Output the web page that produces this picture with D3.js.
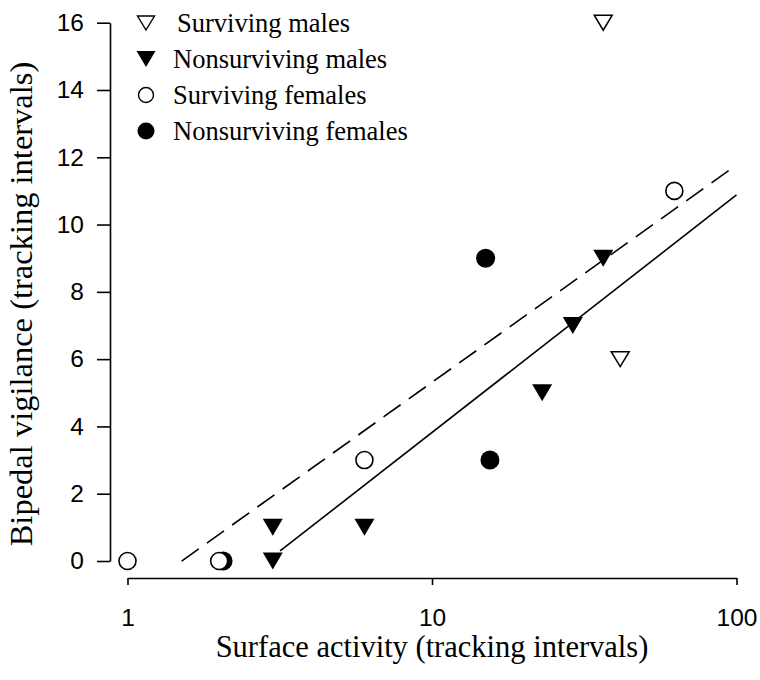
<!DOCTYPE html>
<html>
<head>
<meta charset="utf-8">
<script src="https://cdn.jsdelivr.net/npm/d3@7"></script>
<style>
  html, body { margin: 0; padding: 0; background: #fff; }
  svg { display: block; }
</style>
</head>
<body>
<svg id="chart" width="760" height="680"></svg>
<script>
// Surface activity (x) vs bipedal vigilance (y), in tracking intervals
const survivingMalesX      = [36.5, 41.5];
const survivingMalesY      = [16, 6];
const nonsurvivingMalesX   = [3, 3, 6, 23, 29, 36.5];
const nonsurvivingMalesY   = [0, 1, 1, 5, 7, 9];
const survivingFemalesX    = [1, 2, 6, 62.5];
const survivingFemalesY    = [0, 0, 3, 11];
const nonsurvivingFemalesX = [2.06, 15, 15.5];
const nonsurvivingFemalesY = [0, 9, 3];

// Fitted lines: y = slope * log10(x) + intercept, drawn over [xStart, xEnd]
const fitNames      = ["solid", "dashed"];
const fitSlopes     = [7.06, 6.46];
const fitIntercepts = [-3.24, -1.15];
const fitXStart     = [3.17, 1.506];
const fitXEnd       = [100, 100];

const xTicks = [1, 10, 100];
const yTicks = [0, 2, 4, 6, 8, 10, 12, 14, 16];

const legendLabels = ["Surviving males", "Nonsurviving males", "Surviving females", "Nonsurviving females"];

const svg = d3.select("#chart");
const x = d3.scaleLog().domain([1, 100]).range([127.5, 736.5]);
const y = d3.scaleLinear().domain([0, 16]).range([561, 22.7]);

const tickFont = "'Liberation Sans', Arial, sans-serif";
const titleFont = "'Liberation Serif', 'Times New Roman', serif";

// Y axis
const yAxis = svg.append("g")
  .attr("transform", "translate(110,0)")
  .call(d3.axisLeft(y).tickValues(yTicks).tickSize(13).tickSizeOuter(0).tickPadding(13));
yAxis.selectAll("path, line").attr("stroke", "#000").attr("stroke-width", 1.6);
yAxis.selectAll("text")
  .attr("font-family", tickFont).attr("font-size", 24.5).attr("fill", "#000");

// X axis
const xAxis = svg.append("g")
  .attr("transform", "translate(0,578)")
  .call(d3.axisBottom(x).tickValues(xTicks).tickFormat(d3.format("d")).tickSize(7).tickSizeOuter(0));
xAxis.selectAll("path, line").attr("stroke", "#000").attr("stroke-width", 1.6);
xAxis.selectAll("text")
  .attr("font-family", tickFont).attr("font-size", 24.5).attr("fill", "#000")
  .attr("y", 48).attr("dy", 0);

// Axis titles
svg.append("text")
  .attr("x", x(10)).attr("y", 657)
  .attr("text-anchor", "middle")
  .attr("font-family", titleFont).attr("font-size", 30.5)
  .text("Surface activity (tracking intervals)");

svg.append("text")
  .attr("transform", "translate(32,304) rotate(-90)")
  .attr("text-anchor", "middle")
  .attr("font-family", titleFont).attr("font-size", 32.5)
  .text("Bipedal vigilance (tracking intervals)");

// Fitted lines
const fits = fitNames.map((name, i) => ({
  name, slope: fitSlopes[i], intercept: fitIntercepts[i], x0: fitXStart[i], x1: fitXEnd[i]
}));
const fitY = (f, v) => f.slope * Math.log10(v) + f.intercept;
svg.append("g").selectAll("line")
  .data(fits)
  .join("line")
  .attr("x1", d => x(d.x0)).attr("y1", d => y(fitY(d, d.x0)))
  .attr("x2", d => x(d.x1)).attr("y2", d => y(fitY(d, d.x1)))
  .attr("stroke", "#000").attr("stroke-width", 1.6)
  .attr("stroke-dasharray", d => d.name === "dashed" ? "21,10" : null);

// Marker shapes
const triPath = (cx, cy, w, h) =>
  `M${cx - w / 2},${cy - h / 2}L${cx + w / 2},${cy - h / 2}L${cx},${cy + h / 2}Z`;

function zipPts(xs, ys) { return xs.map((v, i) => ({ x: v, y: ys[i] })); }

const pts = svg.append("g");
// Filled circles first so the open circles sit over them
pts.selectAll("circle.nf")
  .data(zipPts(nonsurvivingFemalesX, nonsurvivingFemalesY))
  .join("circle").attr("class", "nf")
  .attr("cx", d => x(d.x)).attr("cy", d => y(d.y)).attr("r", 9.5)
  .attr("fill", "#000");
pts.selectAll("circle.sf")
  .data(zipPts(survivingFemalesX, survivingFemalesY))
  .join("circle").attr("class", "sf")
  .attr("cx", d => x(d.x)).attr("cy", d => y(d.y)).attr("r", 8.5)
  .attr("fill", "#fff").attr("stroke", "#000").attr("stroke-width", 1.6);
pts.selectAll("path.nm")
  .data(zipPts(nonsurvivingMalesX, nonsurvivingMalesY))
  .join("path").attr("class", "nm")
  .attr("d", d => triPath(x(d.x), y(d.y), 20, 17))
  .attr("fill", "#000");
pts.selectAll("path.sm")
  .data(zipPts(survivingMalesX, survivingMalesY))
  .join("path").attr("class", "sm")
  .attr("d", d => triPath(x(d.x), y(d.y), 18, 15))
  .attr("fill", "#fff").attr("stroke", "#000").attr("stroke-width", 1.5);

// Legend
const legend = svg.append("g");
legendLabels.forEach((label, i) => {
  const cy = 23 + i * 36;
  const cx = 146;
  if (i === 0) {
    legend.append("path").attr("d", triPath(cx, cy, 17, 14))
      .attr("fill", "#fff").attr("stroke", "#000").attr("stroke-width", 1.4);
  } else if (i === 1) {
    legend.append("path").attr("d", triPath(cx, cy, 19, 16)).attr("fill", "#000");
  } else if (i === 2) {
    legend.append("circle").attr("cx", cx).attr("cy", cy).attr("r", 7.5)
      .attr("fill", "#fff").attr("stroke", "#000").attr("stroke-width", 1.4);
  } else {
    legend.append("circle").attr("cx", cx).attr("cy", cy).attr("r", 8.5).attr("fill", "#000");
  }
  legend.append("text")
    .attr("x", i === 0 ? 177 : 173).attr("y", cy + 8.5)
    .attr("font-family", titleFont).attr("font-size", 26.5)
    .text(label);
});
</script>
</body>
</html>
